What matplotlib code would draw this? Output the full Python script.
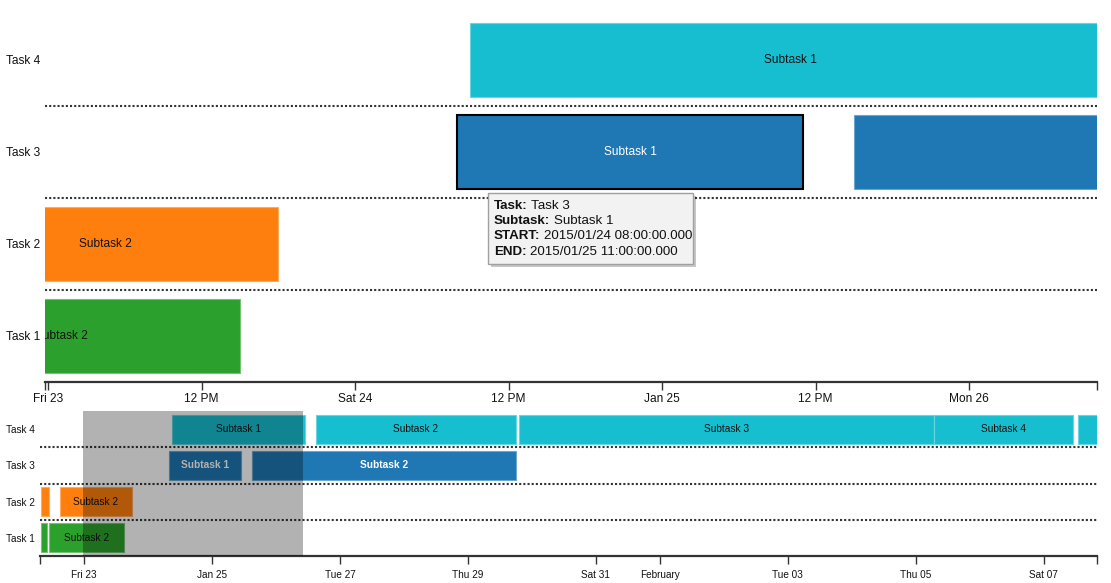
import matplotlib

matplotlib.use("Agg")

import matplotlib.pyplot as plt
import matplotlib.dates as mdates
from matplotlib.patches import Rectangle, FancyBboxPatch
from matplotlib.transforms import Bbox, TransformedBbox
import pandas as pd

plt.rcParams["font.family"] = ["Liberation Sans", "DejaVu Sans"]

# -----------------------------
# Data
# -----------------------------
tasks = ["Task 1", "Task 2", "Task 3", "Task 4"]
task_colors = ["#2ca02c", "#ff7f0e", "#1f77b4", "#17becf"]
label_colors = ["#111111", "#111111", "#ffffff", "#111111"]

bar_task = [0, 0, 1, 1, 2, 2, 3, 3, 3, 3, 3]
bar_name = ["Subtask 1", "Subtask 2", "Subtask 1", "Subtask 2", "Subtask 1", "Subtask 2",
            "Subtask 1", "Subtask 2", "Subtask 3", "Subtask 4", "Subtask 5"]
bar_start = pd.to_datetime([
    "2015-01-22 08:00", "2015-01-22 11:00",
    "2015-01-22 08:00", "2015-01-22 15:00",
    "2015-01-24 08:00", "2015-01-25 15:00",
    "2015-01-24 09:00", "2015-01-26 15:00", "2015-01-29 19:00", "2015-02-05 07:00", "2015-02-07 13:00",
])
bar_end = pd.to_datetime([
    "2015-01-22 10:00", "2015-01-23 15:00",
    "2015-01-22 11:00", "2015-01-23 18:00",
    "2015-01-25 11:00", "2015-01-29 18:00",
    "2015-01-26 11:00", "2015-01-29 18:00", "2015-02-05 07:00", "2015-02-07 11:00", "2015-02-09 00:00",
])

# focus (brush) and context ranges
focus_range = pd.to_datetime(["2015-01-22 23:45", "2015-01-26 10:00"])
context_range = pd.to_datetime(["2015-01-22 07:30", "2015-02-07 20:00"])

focus_ticks = pd.to_datetime(["2015-01-23 00:00", "2015-01-23 12:00", "2015-01-24 00:00", "2015-01-24 12:00",
                              "2015-01-25 00:00", "2015-01-25 12:00", "2015-01-26 00:00"])
focus_tick_labels = ["Fri 23", "12 PM", "Sat 24", "12 PM", "Jan 25", "12 PM", "Mon 26"]

context_ticks = pd.to_datetime(["2015-01-23", "2015-01-25", "2015-01-27", "2015-01-29", "2015-01-31",
                                "2015-02-01", "2015-02-03", "2015-02-05", "2015-02-07"])
context_tick_labels = ["Fri 23", "Jan 25", "Tue 27", "Thu 29", "Sat 31", "February", "Tue 03", "Thu 05", "Sat 07"]

# hovered bar (tooltip)
hover_idx = 4

# -----------------------------
# Figure
# -----------------------------
W, H = 1111, 583
fig = plt.figure(figsize=(W / 100, H / 100), dpi=100)
fig.patch.set_facecolor("white")


def px_axes(x0, y0, x1, y1):
    return fig.add_axes([x0 / W, 1 - y1 / H, (x1 - x0) / W, (y1 - y0) / H])


ax = px_axes(45, 14, 1097, 382)
axc = px_axes(40, 411, 1097, 556)


def lighten(c, f=0.35):
    r, g, b = matplotlib.colors.to_rgb(c)
    return (r + (1 - r) * f, g + (1 - g) * f, b + (1 - b) * f)


def draw_gantt(a, xr, fs, bold_blue, lw_edge):
    x0, x1 = mdates.date2num(xr[0]), mdates.date2num(xr[1])
    a.set_xlim(x0, x1)
    a.set_ylim(0, 4)
    for i in range(len(bar_name)):
        t = bar_task[i]
        s = mdates.date2num(bar_start[i])
        e = mdates.date2num(bar_end[i])
        ec = lighten(task_colors[t])
        lw = lw_edge
        if a is ax and i == hover_idx:
            ec, lw = "black", 1.5
        a.add_patch(Rectangle((s, t + 0.1), e - s, 0.8, facecolor=task_colors[t],
                              edgecolor=ec, linewidth=lw, zorder=2))
        weight = "bold" if (bold_blue and t == 2) else "normal"
        txt = a.text((s + e) / 2, t + 0.5, bar_name[i], ha="center", va="center", fontsize=fs,
                     color=label_colors[t], fontweight=weight, zorder=3)
        # label hidden on tiny bars, clipped to the visible part of its bar
        px_w = a.transData.transform((e, 0))[0] - a.transData.transform((s, 0))[0]
        cs, ce = max(s, x0), min(e, x1)
        if ce <= cs or px_w < 25:
            txt.set_visible(False)
        else:
            txt.set_clip_box(TransformedBbox(Bbox([[cs, t + 0.1], [ce, t + 0.9]]), a.transData))
            txt.set_clip_on(True)
    for y in [1, 2, 3]:
        a.axhline(y, color="#333333", linewidth=1.5, linestyle=(0, (1, 1)), zorder=1)
    for sp in ["top", "right", "left"]:
        a.spines[sp].set_visible(False)
    a.spines["bottom"].set_color("#333333")
    a.spines["bottom"].set_linewidth(1.6)
    a.tick_params(axis="x", which="both", length=6, width=1, color="#333333")
    a.tick_params(axis="y", length=0)


draw_gantt(ax, focus_range, 8.6, False, 0.8)
draw_gantt(axc, context_range, 7.3, True, 0.8)

ax.set_xticks(mdates.date2num(focus_ticks))
ax.set_xticklabels(focus_tick_labels, fontsize=8.6, color="#111111")
ax.set_xticks(list(ax.get_xlim()), minor=True)
ax.tick_params(axis="x", pad=2)

axc.set_xticks(mdates.date2num(context_ticks))
axc.set_xticklabels(context_tick_labels, fontsize=7.2, color="#111111")
axc.set_xticks(list(axc.get_xlim()), minor=True)
axc.tick_params(axis="x", pad=4)

ax.set_yticks([0.5, 1.5, 2.5, 3.5])
ax.set_yticklabels(tasks, fontsize=8.6, color="#111111")
for lab in ax.get_yticklabels():
    lab.set_horizontalalignment("left")
ax.tick_params(axis="y", pad=28)

axc.set_yticks([0.5, 1.5, 2.5, 3.5])
axc.set_yticklabels(tasks, fontsize=7.2, color="#111111")
for lab in axc.get_yticklabels():
    lab.set_horizontalalignment("left")
axc.tick_params(axis="y", pad=24.5)

# brush on context
b0, b1 = mdates.date2num(focus_range[0]), mdates.date2num(focus_range[1])
axc.add_patch(Rectangle((b0, 0), b1 - b0, 4, facecolor="black", alpha=0.3, edgecolor="none", zorder=5))

# -----------------------------
# Tooltip
# -----------------------------
tx0, ty0, tx1, ty1 = 488, 193, 693, 264
shadow = FancyBboxPatch((tx0 + 3, H - ty1 - 3), tx1 - tx0, ty1 - ty0, boxstyle="square,pad=0",
                        transform=None, facecolor="#000000", alpha=0.22, edgecolor="none", zorder=10)
box = FancyBboxPatch((tx0, H - ty1), tx1 - tx0, ty1 - ty0, boxstyle="square,pad=0",
                     transform=None, facecolor="#f2f2f2", edgecolor="#a0a0a0", linewidth=1, zorder=11)
fig.patches.extend([shadow, box])

hs = hover_idx
tip_rows = [
    ("Task:", tasks[bar_task[hs]]),
    ("Subtask:", bar_name[hs]),
    ("START:", bar_start[hs].strftime("%Y/%m/%d %H:%M:%S.000")),
    ("END:", bar_end[hs].strftime("%Y/%m/%d %H:%M:%S.000")),
]
for k, (key, val) in enumerate(tip_rows):
    ypx = 206 + k * 15.2
    tb = fig.text((tx0 + 6) / W, 1 - ypx / H, key, fontsize=9.6, fontweight="bold", color="#111111",
                  ha="left", va="center", zorder=12)
    ann = matplotlib.text.Annotation(val, xy=(1, 0.5), xycoords=tb, xytext=(2.5, 0),
                                     textcoords="offset points", ha="left", va="center",
                                     fontsize=9.6, color="#111111", zorder=12)
    ann.set_figure(fig)
    fig.texts.append(ann)

fig.savefig("out.png", dpi=100)
